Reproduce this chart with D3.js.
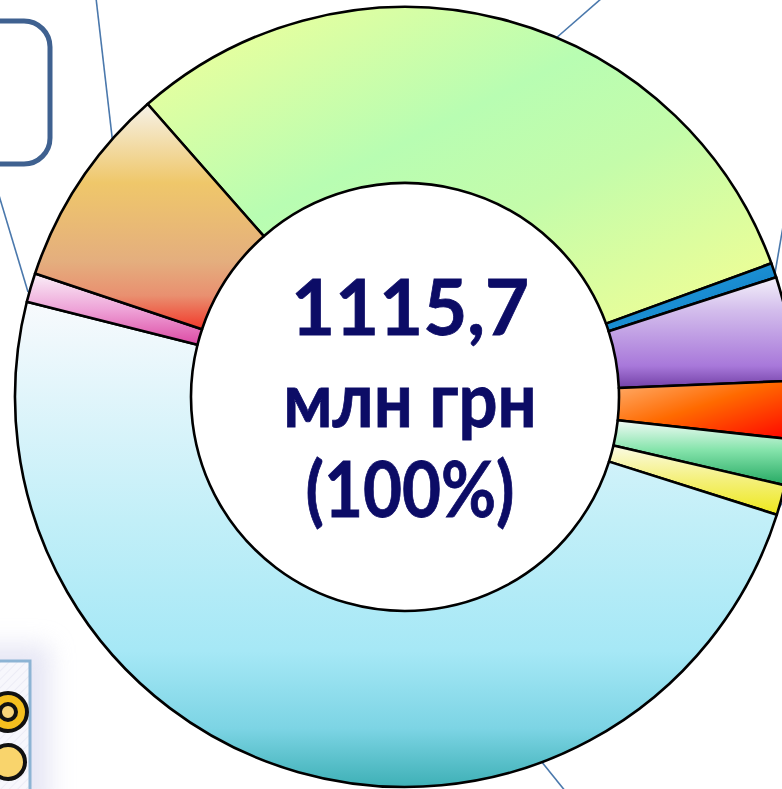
<!DOCTYPE html>
<html>
<head>
<meta charset="utf-8">
<script src="https://cdn.jsdelivr.net/npm/d3@7"></script>
<style>
  html,body{margin:0;padding:0;background:#fff;overflow:hidden;}
  svg{display:block;}
</style>
</head>
<body>
<svg id="chart" width="782" height="789"></svg>
<script>
// slice ids (labels are outside the visible crop), clockwise from the top-left
const categories = ["s1","s2","s3","s4","s5","s6","s7","s8","s9"];
// values, млн грн (total 1115,7)
const values = [344.8, 6.7, 48.0, 26.8, 21.2, 13.9, 547.2, 13.4, 93.7];
const centerLines = ["1115,7", "млн грн", "(100%)"];

// gradient stops per slice: [offset, colour], and direction
const fills = [
  {dir:[0,0,1,1], stops:[[0,"#f6ff98"],[0.42,"#b8fdb2"],[0.62,"#c4fcaa"],[1,"#f6fe92"]]},
  {dir:[0,0,1,1], stops:[[0,"#0a6fb8"],[0.5,"#1a8ed2"],[1,"#0a6fb8"]]},
  {dir:[0,0,0,1], stops:[[0,"#f4f2fa"],[0.3,"#d3bdec"],[0.8,"#a878da"],[1,"#7240a6"]]},
  {dir:[0,0,1,1], stops:[[0,"#ffb070"],[0.45,"#ff6a00"],[1,"#ff0000"]]},
  {dir:[0,0,0,1], stops:[[0,"#f2fbf6"],[0.45,"#86e4ac"],[1,"#24a862"]]},
  {dir:[0,0,0,1], stops:[[0,"#fbfbe6"],[0.5,"#f4f07a"],[1,"#eee81a"]]},
  {dir:[0,0,0,1], stops:[[0,"#f8fafd"],[0.45,"#c2eff8"],[0.72,"#a6e8f6"],[0.88,"#7cd4e4"],[1,"#3eb0b6"]]},
  {dir:[0,0,0,1], stops:[[0,"#faf0f8"],[0.5,"#eea4d8"],[1,"#dc4aa4"]]},
  {dir:[0,0,0,1], stops:[[0,"#f6f2e8"],[0.35,"#efc76a"],[0.7,"#e4ae7e"],[0.85,"#e99070"],[1,"#f2382a"]]}
];

const W=782, H=789;
const cx=405, cy=397, rOuter=390, rInner=214;
const start=-41.3*Math.PI/180;

const svg=d3.select("#chart");
const defs=svg.append("defs");

fills.forEach((f,i)=>{
  const g=defs.append("linearGradient").attr("id","g"+i)
    .attr("x1",f.dir[0]).attr("y1",f.dir[1]).attr("x2",f.dir[2]).attr("y2",f.dir[3]);
  g.selectAll("stop").data(f.stops).join("stop")
    .attr("offset",d=>d[0]).attr("stop-color",d=>d[1]);
});

const blur=defs.append("filter").attr("id","glow").attr("x","-50%").attr("y","-50%").attr("width","200%").attr("height","200%");
blur.append("feGaussianBlur").attr("stdDeviation",12);

const hatch=defs.append("pattern").attr("id","hatch").attr("width",6).attr("height",6)
  .attr("patternUnits","userSpaceOnUse").attr("patternTransform","rotate(45)");
hatch.append("rect").attr("width",6).attr("height",6).attr("fill","#f7f7fc");
hatch.append("line").attr("x1",0).attr("y1",0).attr("x2",0).attr("y2",6).attr("stroke","#ececf6").attr("stroke-width",2);

// leader lines
const leaders=[
  [[96,-2],[113,145]],
  [[-2,192],[28,292]],
  [[602,-2],[555,39]],
  [[785,215],[775,273]],
  [[541,761],[566,792]],
  [[784,500],[777,511]]
];
svg.append("g").selectAll("line").data(leaders).join("line")
  .attr("x1",d=>d[0][0]).attr("y1",d=>d[0][1]).attr("x2",d=>d[1][0]).attr("y2",d=>d[1][1])
  .attr("stroke","#4a78ac").attr("stroke-width",1.6);

// callout box, top-left
svg.append("rect").attr("x",-40).attr("y",21).attr("width",90).attr("height",143)
  .attr("rx",26).attr("fill","#fff").attr("stroke","#3f6190").attr("stroke-width",5);

// legend-like box, bottom-left
svg.append("rect").attr("x",-30).attr("y",645).attr("width",80).attr("height",170)
  .attr("fill","#dcdcf0").attr("opacity",0.7).attr("filter","url(#glow)");
svg.append("rect").attr("x",-10).attr("y",661).attr("width",40).attr("height",140)
  .attr("fill","url(#hatch)").attr("stroke","#8db4d4").attr("stroke-width",3);
svg.append("circle").attr("cx",8).attr("cy",712).attr("r",19)
  .attr("fill","#f5bf1e").attr("stroke","#111").attr("stroke-width",4);
svg.append("circle").attr("cx",8).attr("cy",712).attr("r",8)
  .attr("fill","#f8d57a").attr("stroke","#111").attr("stroke-width",4);
svg.append("circle").attr("cx",8).attr("cy",762).attr("r",17)
  .attr("fill","#f9d46c").attr("stroke","#111").attr("stroke-width",4);

// donut
const pie=d3.pie().sort(null).startAngle(start).endAngle(start+2*Math.PI);
const arc=d3.arc().innerRadius(rInner).outerRadius(rOuter);
const data=categories.map((c,i)=>({id:c,value:values[i],i}));

svg.append("g").attr("transform",`translate(${cx},${cy})`)
  .selectAll("path").data(pie.value(d=>d.value)(data)).join("path")
  .attr("d",arc)
  .attr("fill",d=>`url(#g${d.data.i})`)
  .attr("stroke","#000").attr("stroke-width",2.6).attr("stroke-linejoin","round");

// centre label (narrowed a little to match the original face)
const squeeze=[1,0.905,0.885];
svg.append("g").selectAll("text").data(centerLines).join("text")
  .attr("transform",(d,i)=>`translate(410,${[335,427,517][i]}) scale(${squeeze[i]},1)`)
  .attr("text-anchor","middle")
  .attr("font-family","Lato, 'Open Sans', sans-serif").attr("font-weight","bold")
  .attr("font-size",76).attr("fill","#0c0c66")
  .attr("stroke","#0c0c66").attr("stroke-width",0.8)
  .text(d=>d);
</script>
</body>
</html>
